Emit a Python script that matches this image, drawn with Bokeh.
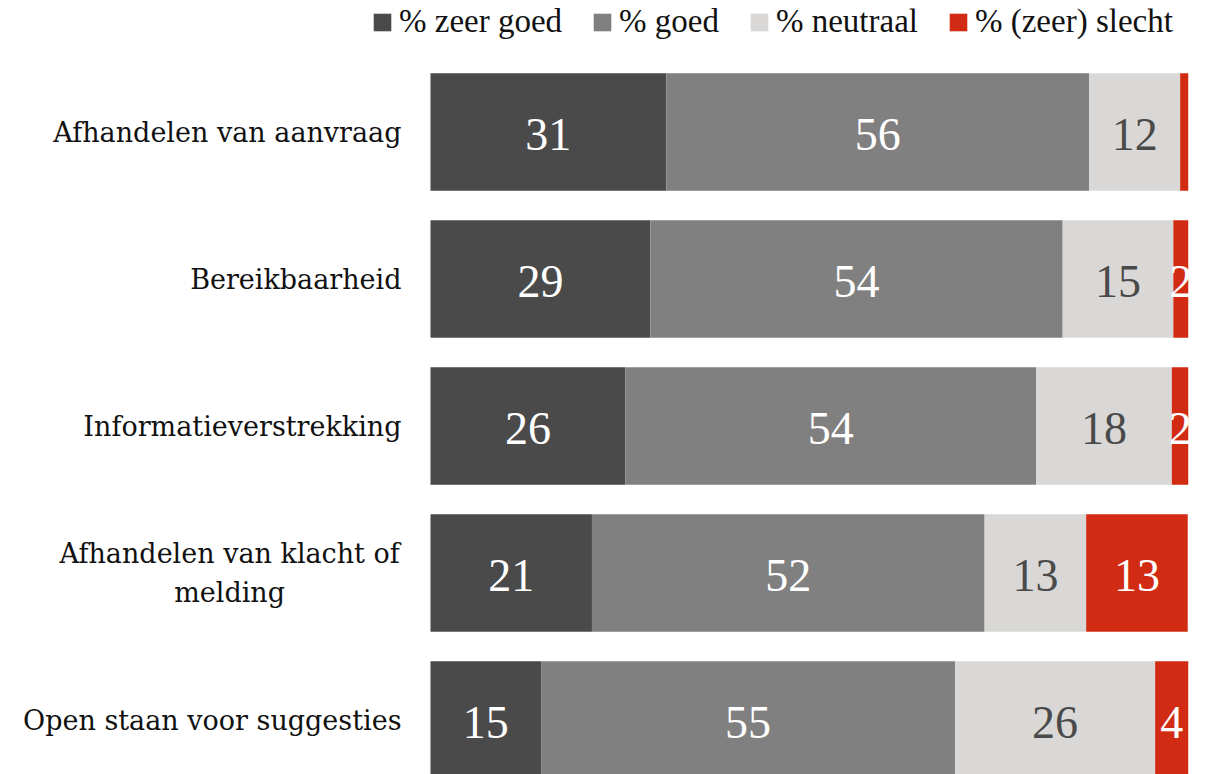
from bokeh.plotting import figure
from bokeh.models import ColumnDataSource, Range1d
from bokeh.core.properties import value
from bokeh.embed import file_html
from bokeh.resources import INLINE

categories = ["Afhandelen van aanvraag", "Bereikbaarheid", "Informatieverstrekking",
              "Afhandelen van klacht of\nmelding", "Open staan voor suggesties"]
series_names = ["% zeer goed", "% goed", "% neutraal", "% (zeer) slecht"]
zeer_goed = [31.1, 29.0, 25.7, 21.3, 14.6]
goed = [55.8, 54.4, 54.2, 51.8, 54.6]
neutraal = [12.0, 14.6, 17.9, 13.4, 26.4]
slecht = [1.1, 2.0, 2.2, 13.4, 4.4]

colors = ["#4a4a4a", "#808080", "#d9d8d6", "#d12c13"]
label_colors = ["#ffffff", "#ffffff", "#4a4a4a", "#ffffff"]

W, H = 1207, 774
PX = 7.58           # pixels per percentage point
X0 = 430            # pixel where 0 % lies
rows = list(range(len(categories)))

p = figure(width=W, height=H, output_backend="svg", toolbar_location=None,
           x_axis_location=None, y_axis_location=None,
           x_range=Range1d(-X0 / PX, (W - X0) / PX), y_range=Range1d(4.3707, -0.8946),
           min_border_left=0, min_border_right=0, min_border_top=0, min_border_bottom=0)
p.xgrid.visible = False
p.ygrid.visible = False
p.outline_line_color = None

left = [0.0] * len(rows)
for name, vals, col, lcol in zip(series_names, [zeer_goed, goed, neutraal, slecht], colors, label_colors):
    right = [l + v for l, v in zip(left, vals)]
    src = ColumnDataSource(dict(y=rows, left=left, right=right))
    p.hbar(y="y", left="left", right="right", height=0.8, source=src,
           fill_color=col, line_color=None, legend_label=name)
    lx, ly, lt = [], [], []
    for i, v in enumerate(vals):
        if v >= 1.5:
            lx.append(left[i] + v / 2)
            ly.append(rows[i] + 0.02)
            lt.append(str(int(round(v))))
    tsrc = ColumnDataSource(dict(x=lx, y=ly, t=lt))
    p.text(x="x", y="y", text="t", source=tsrc, text_align="center", text_baseline="middle",
           text_font=value("Liberation Serif"), text_font_size="46px", text_color=lcol)
    left = right

# mask the overflow of labels beyond the 100 % edge
p.quad(left=[100], right=[(W - X0) / PX + 1], bottom=[4.5], top=[-0.55],
       fill_color="white", line_color=None)

# category labels
single = [(i, c) for i, c in zip(rows, categories) if "\n" not in c]
multi = [(i, c) for i, c in zip(rows, categories) if "\n" in c]
p.text(x=[-29 / PX] * len(single), y=[i for i, _ in single], text=[c for _, c in single],
       text_align="right", text_baseline="middle", text_font=value("DejaVu Serif"),
       text_font_size="27px", text_color="#111111")
p.text(x=[-26.5] * len(multi), y=[i for i, _ in multi], text=[c for _, c in multi],
       text_align="center", text_baseline="middle", text_font=value("DejaVu Serif"),
       text_font_size="27px", text_color="#111111", text_line_height=1.25)

lg = p.legend[0]
lg.location = (371, 734)
lg.orientation = "horizontal"
lg.glyph_width = 22
lg.glyph_height = 22
lg.label_standoff = 6
lg.spacing = 29
lg.padding = 0
lg.margin = 0
lg.border_line_color = None
lg.background_fill_alpha = 0
lg.label_text_font = "Liberation Serif"
lg.label_text_font_size = "33px"
lg.label_text_color = "#111111"

open("out.html", "w").write(file_html(p, INLINE))
